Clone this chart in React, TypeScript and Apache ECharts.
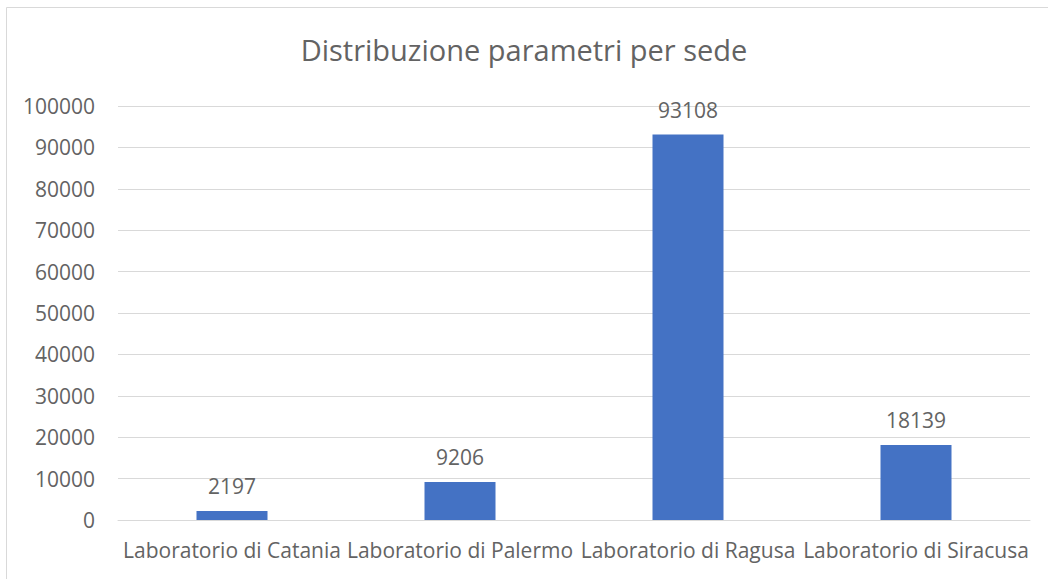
import React, { useEffect, useRef } from "react";
import * as echarts from "echarts";

const title = "Distribuzione parametri per sede";
const categories = [
  "Laboratorio di Catania",
  "Laboratorio di Palermo",
  "Laboratorio di Ragusa",
  "Laboratorio di Siracusa",
];
const values = [2197, 9206, 93108, 18139];

export default function App() {
  const ref = useRef<HTMLDivElement>(null);
  useEffect(() => {
    if (!ref.current) return;
    const chart = echarts.init(ref.current, null, { renderer: "svg" });
    const font = "'Open Sans', sans-serif";
    const textColor = "#636363";
    chart.setOption({
      animation: false,
      backgroundColor: "#ffffff",
      textStyle: { fontFamily: font },
      graphic: [
        {
          type: "rect",
          shape: { x: 6.5, y: 7.5, width: 1100, height: 700 },
          style: { fill: "none", stroke: "#d9d9d9", lineWidth: 1 },
          silent: true,
        },
      ],
      title: {
        text: title,
        left: "center",
        top: 30,
        textStyle: { fontFamily: font, fontSize: 29, fontWeight: "normal", color: textColor },
      },
      grid: { left: 118, right: 18, top: 106, bottom: 59, containLabel: false },
      xAxis: {
        type: "category",
        data: categories,
        axisLine: { show: true, lineStyle: { color: "#d9d9d9", width: 1 } },
        axisTick: { show: false },
        axisLabel: { color: textColor, fontSize: 21, margin: 19, fontFamily: font, interval: 0 },
      },
      yAxis: {
        type: "value",
        min: 0,
        max: 100000,
        interval: 10000,
        axisLine: { show: false },
        axisTick: { show: false },
        axisLabel: {
          color: textColor,
          fontSize: 21,
          margin: 23,
          fontFamily: font,
          formatter: (v: number) => String(v),
        },
        splitLine: { lineStyle: { color: "#d9d9d9", width: 1 } },
      },
      series: [
        {
          type: "bar",
          data: values,
          barWidth: 71,
          itemStyle: { color: "#4472c4" },
          label: {
            show: true,
            position: "top",
            distance: 14,
            color: textColor,
            fontSize: 21,
            fontFamily: font,
          },
        },
      ],
    });
    return () => chart.dispose();
  }, []);
  return (
    <div
      ref={ref}
      style={{ position: "fixed", left: 0, top: 0, width: 1048, height: 579 }}
    />
  );
}
